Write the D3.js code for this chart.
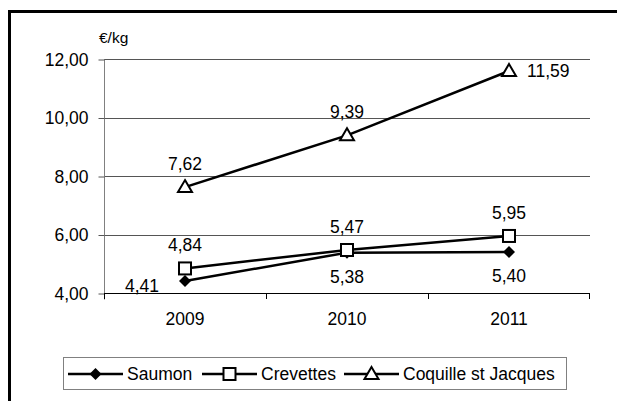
<!DOCTYPE html>
<html>
<head>
<meta charset="utf-8">
<script src="https://cdn.jsdelivr.net/npm/d3@7"></script>
<style>
  body { margin: 0; background: #fff; }
  svg { display: block; font-family: "Liberation Sans", Arial, sans-serif; }
  text { fill: #000; }
</style>
</head>
<body>
<svg width="617" height="401"></svg>
<script>
// data
var years = ["2009", "2010", "2011"];
var saumon = [4.41, 5.38, 5.40];
var crevettes = [4.84, 5.47, 5.95];
var coquille = [7.62, 9.39, 11.59];
var yTicks = [4, 6, 8, 10, 12];
var unitLabel = "€/kg";

var series = [
  { name: "Saumon", values: saumon, marker: "diamond", labelPos: ["left", "below", "below"] },
  { name: "Crevettes", values: crevettes, marker: "square", labelPos: ["above", "above", "above"] },
  { name: "Coquille st Jacques", values: coquille, marker: "triangle", labelPos: ["above", "above", "right"] }
];

var svg = d3.select("svg");
var fr = d3.formatLocale({ decimal: ",", thousands: " ", grouping: [3], currency: ["", "€"] });
var fmt = fr.format(".2f");

// outer frame (runs past the bottom/right of the picture)
svg.append("rect")
  .attr("x", 9.5).attr("y", 11.5)
  .attr("width", 700).attr("height", 500)
  .attr("fill", "none").attr("stroke", "#000").attr("stroke-width", 3);

var plot = { left: 104, right: 590, top: 59, bottom: 293 };

var x = d3.scaleBand().domain(years).range([plot.left, plot.right]);
var y = d3.scaleLinear().domain([4, 12]).range([plot.bottom, plot.top]);
function cx(d) { return x(d) + x.bandwidth() / 2; }

// gridlines
svg.append("g")
  .selectAll("line")
  .data(yTicks.slice(1))
  .enter().append("line")
  .attr("x1", plot.left).attr("x2", plot.right)
  .attr("y1", function(d) { return Math.round(y(d)) + 0.5; })
  .attr("y2", function(d) { return Math.round(y(d)) + 0.5; })
  .attr("stroke", "#555").attr("stroke-width", 1);

// y axis
var yAxis = svg.append("g")
  .attr("transform", "translate(" + (plot.left + 0.5) + ",0.5)")
  .call(d3.axisLeft(y).tickValues(yTicks).tickSize(6).tickPadding(10).tickFormat(fmt));
yAxis.select(".domain").attr("stroke", "#808080").attr("d", "M0," + plot.top + "V" + (plot.bottom + 6));
yAxis.selectAll(".tick line").attr("stroke", "#555");
yAxis.selectAll(".tick text").attr("font-size", 17.5).attr("fill", "#000").attr("font-family", null);

svg.append("text")
  .attr("x", 99).attr("y", 43)
  .attr("font-size", 15.5)
  .text(unitLabel);

// x axis
var xg = svg.append("g");
xg.append("line")
  .attr("x1", plot.left).attr("x2", plot.right)
  .attr("y1", plot.bottom + 0.5).attr("y2", plot.bottom + 0.5)
  .attr("stroke", "#000");
xg.selectAll(".xtick")
  .data(years.concat([null]))
  .enter().append("line")
  .attr("class", "xtick")
  .attr("x1", function(d) { return d === null ? plot.right - 0.5 : Math.round(x(d)) + 0.5; })
  .attr("x2", function(d) { return d === null ? plot.right - 0.5 : Math.round(x(d)) + 0.5; })
  .attr("y1", plot.bottom).attr("y2", plot.bottom + 6)
  .attr("stroke", "#000");
xg.selectAll(".xlab")
  .data(years)
  .enter().append("text")
  .attr("class", "xlab")
  .attr("x", cx)
  .attr("y", 325)
  .attr("text-anchor", "middle")
  .attr("font-size", 17.5)
  .text(function(d) { return d; });

// markers
function drawMarker(g, type, px, py) {
  if (type === "diamond") {
    g.append("path")
      .attr("d", "M" + px + "," + (py - 6) + "L" + (px + 6) + "," + py + "L" + px + "," + (py + 6) + "L" + (px - 6) + "," + py + "Z")
      .attr("fill", "#000");
  } else if (type === "square") {
    g.append("rect")
      .attr("x", px - 6).attr("y", py - 6)
      .attr("width", 12).attr("height", 12)
      .attr("fill", "#fff").attr("stroke", "#000").attr("stroke-width", 2);
  } else {
    g.append("path")
      .attr("d", "M" + px + "," + (py - 7) + "L" + (px + 7) + "," + (py + 5) + "L" + (px - 7) + "," + (py + 5) + "Z")
      .attr("fill", "#fff").attr("stroke", "#000").attr("stroke-width", 2);
  }
}

var line = d3.line()
  .x(function(d, i) { return cx(years[i]); })
  .y(function(d) { return y(d); });

series.forEach(function(s) {
  var g = svg.append("g");
  g.append("path")
    .attr("d", line(s.values))
    .attr("fill", "none").attr("stroke", "#000").attr("stroke-width", 2.5);
  s.values.forEach(function(v, i) {
    drawMarker(g, s.marker, cx(years[i]), y(v));
  });
});

// data labels drawn after all lines so they sit on top
series.forEach(function(s) {
  s.values.forEach(function(v, i) {
    var px = cx(years[i]), py = y(v);
    var t = svg.append("text").attr("font-size", 17.5).text(fmt(v));
    var pos = s.labelPos[i];
    if (pos === "above") {
      t.attr("x", px).attr("y", py - 17).attr("text-anchor", "middle");
    } else if (pos === "below") {
      t.attr("x", px).attr("y", py + 30).attr("text-anchor", "middle");
    } else if (pos === "left") {
      t.attr("x", px - 26).attr("y", py + 11).attr("text-anchor", "end");
    } else {
      t.attr("x", px + 18).attr("y", py + 6).attr("text-anchor", "start");
    }
  });
});

// legend
var lg = svg.append("g");
lg.append("rect")
  .attr("x", 63.5).attr("y", 357.5)
  .attr("width", 503).attr("height", 32)
  .attr("fill", "#fff").attr("stroke", "#808080");
var legX = [68, 202, 344];
series.forEach(function(s, i) {
  var lx = legX[i], ly = 374;
  lg.append("line")
    .attr("x1", lx).attr("x2", lx + 55)
    .attr("y1", ly).attr("y2", ly)
    .attr("stroke", "#000").attr("stroke-width", 2.5);
  drawMarker(lg, s.marker, lx + 27.5, ly);
  lg.append("text")
    .attr("x", lx + 59).attr("y", ly + 6)
    .attr("font-size", 17.5)
    .text(s.name);
});
</script>
</body>
</html>
